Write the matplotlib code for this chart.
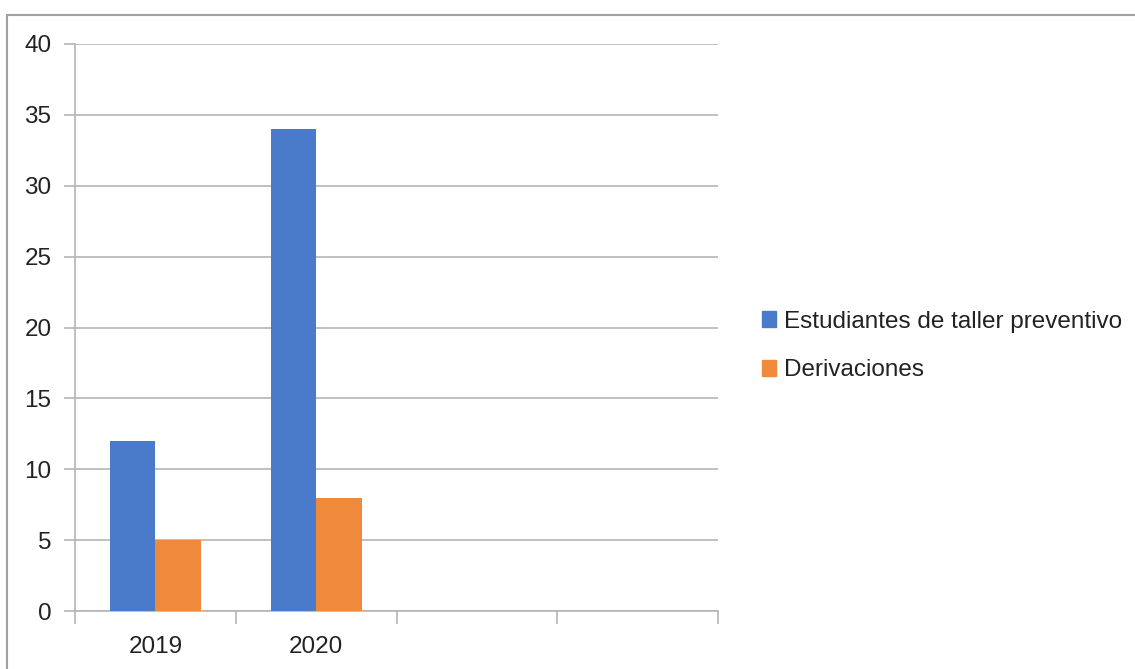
import numpy as np
import matplotlib.pyplot as plt
from matplotlib.patches import Rectangle, Patch

categorias = ['2019', '2020', '', '']
estudiantes = [12, 34]
derivaciones = [5, 8]
series = ['Estudiantes de taller preventivo', 'Derivaciones']
colores = ['#4a7bcb', '#ef8a3c']
y_ticks = [0, 5, 10, 15, 20, 25, 30, 35, 40]

plt.rcParams['font.family'] = ['Liberation Sans', 'DejaVu Sans']

fig = plt.figure(figsize=(11.35, 6.69), dpi=100)
ax = fig.add_axes([75/1135, 1-611/669, (718-75)/1135, (611-44)/669])

x = np.arange(len(estudiantes))
ancho = 0.283
ax.bar(x - ancho/2, estudiantes, ancho, color=colores[0], zorder=3)
ax.bar(x + ancho/2, derivaciones, ancho, color=colores[1], zorder=3)

ax.set_xlim(-0.5, len(categorias) - 0.5)
ax.set_ylim(0, 40)
ax.set_yticks(y_ticks)
ax.yaxis.grid(True, color='#b5b5b5', lw=1.2, zorder=0)
ax.tick_params(axis='y', length=8, color='#b5b5b5', width=1.2, labelsize=17.5, pad=9,
               labelcolor='#222222')

ax.set_xticks(np.arange(len(categorias)))
ax.set_xticklabels(categorias)
ax.set_xticks(np.arange(len(categorias) + 1) - 0.5, minor=True)
ax.tick_params(axis='x', which='major', length=0, labelsize=17.5, pad=18, labelcolor='#222222')
ax.tick_params(axis='x', which='minor', length=9, color='#b5b5b5', width=1.2)

for s in ['top', 'right']:
    ax.spines[s].set_visible(False)
for s in ['left', 'bottom']:
    ax.spines[s].set_color('#b5b5b5')
    ax.spines[s].set_linewidth(1.2)

handles = [Patch(color=c) for c in colores]
fig.legend(handles, series, loc='center left', bbox_to_anchor=(740/1135, 1-346/669),
           frameon=False, fontsize=17.5, handlelength=0.6, handleheight=0.6,
           handletextpad=0.3, labelspacing=1.1, labelcolor='#222222')

fig.patches.append(Rectangle((7/1135, -0.1), 1.2, 1.1 - 15/669, transform=fig.transFigure,
                             fill=False, edgecolor='#a0a0a0', lw=1.5))

fig.savefig('out.png', dpi=100)
